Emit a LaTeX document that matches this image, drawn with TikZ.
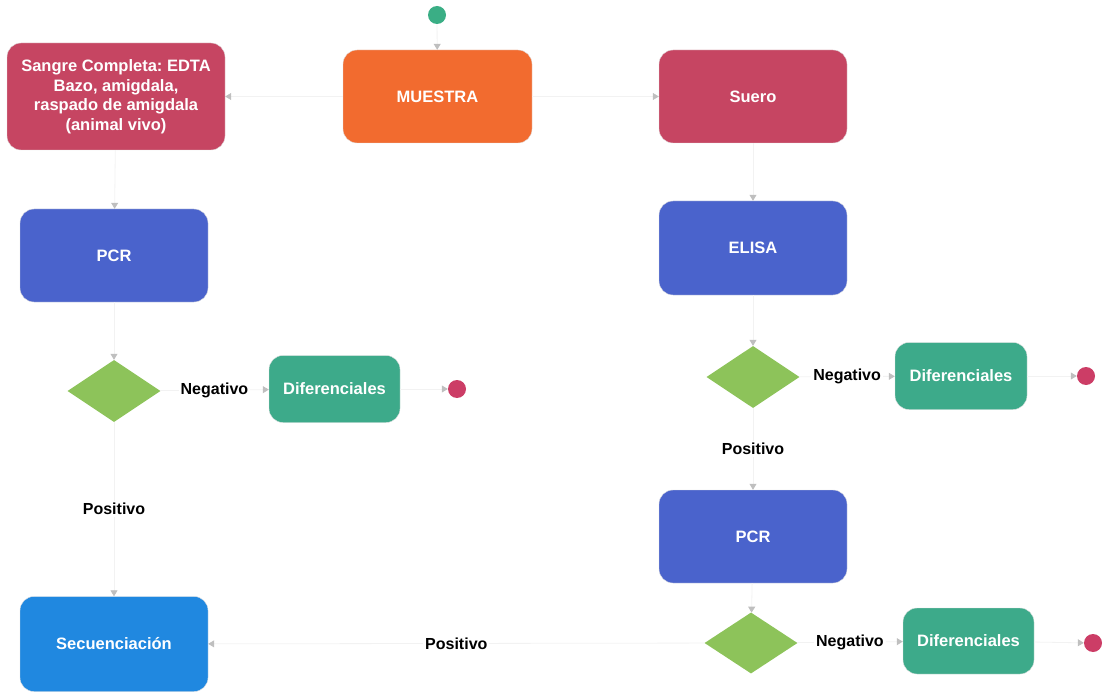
\documentclass[tikz,border=0pt]{standalone}
\usepackage{fontspec}
\setmainfont{Liberation Sans}
\usepackage{tikz}
\usetikzlibrary{ arrows.meta,      % For the small grey tips
                 shapes.geometric, % For the decision diamonds
                 positioning,
               }
\frenchspacing
\definecolor{orangeM}{RGB}{242,107,47}
\definecolor{rojoM}{RGB}{198,69,98}
\definecolor{azulM}{RGB}{74,99,204}
\definecolor{celesteM}{RGB}{32,136,224}
\definecolor{verdeM}{RGB}{61,170,138}
\definecolor{limaM}{RGB}{141,195,90}
\definecolor{inicioM}{RGB}{58,174,133}
\definecolor{finM}{RGB}{204,61,102}
\tikzstyle{edge} = [draw=black!5, line width=0.8pt, -{Triangle[length=6pt,width=7pt,color=black!25]}]
\tikzstyle{box} = [rectangle, rounded corners=14pt, text=white, align=center, inner sep=0pt, font=\fontsize{16.5}{19.5}\selectfont\bfseries, draw=black!12]
\tikzstyle{decision} = [diamond, fill=limaM, inner sep=0pt, minimum width=93pt, minimum height=62pt]
\tikzstyle{dot} = [circle, inner sep=0pt, minimum size=18pt]
\tikzstyle{lbl} = [fill=white, inner sep=2pt, font=\fontsize{16}{18}\selectfont\bfseries]

\begin{document}
\begin{tikzpicture}[x=1pt, y=1pt]
  \useasboundingbox (0,0) rectangle (1104,-698);
  \node (ini) [dot, fill=inicioM] at (437,-15) {};
  \node (mue) [box, fill=orangeM, minimum width=189pt, minimum height=93pt] at (437.5,-96.5) {MUESTRA};
  \node (san) [box, fill=rojoM, minimum width=218pt, minimum height=107pt] at (116,-96.5)
    {Sangre Completa: EDTA\\Bazo, amigdala,\\raspado de amigdala\\(animal vivo)};
  \node (sue) [box, fill=rojoM, minimum width=188pt, minimum height=93pt] at (753,-96.5) {Suero};

  % rama izquierda
  \node (pcr1) [box, fill=azulM, minimum width=188pt, minimum height=93pt] at (114,-255.5) {PCR};
  \node (dec1) [decision] at (114,-391) {};
  \node (dif1) [box, fill=verdeM, minimum width=131pt, minimum height=67pt] at (334.5,-389) {Diferenciales};
  \node (fin1) [dot, fill=finM] at (457,-389) {};
  \node (sec) [box, fill=celesteM, minimum width=188pt, minimum height=95pt] at (114,-644) {Secuenciación};

  % rama derecha
  \node (eli) [box, fill=azulM, minimum width=188pt, minimum height=94pt] at (753,-248) {ELISA};
  \node (dec2) [decision] at (753,-377) {};
  \node (dif2) [box, fill=verdeM, minimum width=132pt, minimum height=67pt] at (961,-376) {Diferenciales};
  \node (fin2) [dot, fill=finM] at (1086,-376) {};
  \node (pcr2) [box, fill=azulM, minimum width=188pt, minimum height=93pt] at (753,-536.5) {PCR};
  \node (dec3) [decision, minimum height=61pt] at (751,-643) {};
  \node (dif3) [box, fill=verdeM, minimum width=131pt, minimum height=66pt] at (968.5,-641) {Diferenciales};
  \node (fin3) [dot, fill=finM] at (1093,-643) {};

  \path [edge] (ini) edge (mue);
  \path [edge] (mue) edge (san);
  \path [edge] (mue) edge (sue);
  \path [edge] (san) edge (pcr1);
  \path [edge] (pcr1) edge (dec1);
  \path [edge] (dec1) edge node [lbl] {Negativo} (dif1);
  \path [edge] (dif1) edge (fin1);
  \path [edge] (dec1) edge node [lbl] {Positivo} (sec);
  \path [edge] (sue) edge (eli);
  \path [edge] (eli) edge (dec2);
  \path [edge] (dec2) edge node [lbl] {Negativo} (dif2);
  \path [edge] (dif2) edge (fin2);
  \path [edge] (dec2) edge node [lbl] {Positivo} (pcr2);
  \path [edge] (pcr2) edge (dec3);
  \path [edge] (dec3) edge node [lbl] {Negativo} (dif3);
  \path [edge] (dif3) edge (fin3);
  \path [edge] (dec3) edge node [lbl] {Positivo} (sec);
\end{tikzpicture}
\end{document}
